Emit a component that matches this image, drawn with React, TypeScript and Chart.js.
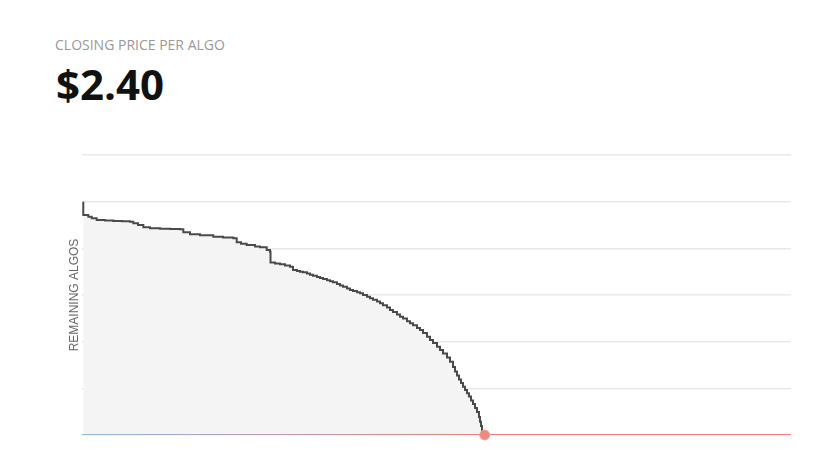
import React, { useEffect, useRef } from "react";
import { Chart, registerables } from "chart.js";

Chart.register(...registerables);

const TITLE = "CLOSING PRICE PER ALGO";
const PRICE = "$2.40";
const Y_TITLE = "REMAINING ALGOS";

// x: auction progress (0..100), y: remaining algos (millions)
const stepX = [
  0.18, 0.18, 0.89, 1.37, 2.07, 3.24, 4.41, 5.64, 6.77, 7.24, 7.9, 8.65, 9.59, 11.0, 12.41, 13.82,
  14.29, 15.23, 16.64, 18.52, 19.89, 21.34, 21.82, 22.43, 23.23, 24.4, 25.11, 26.05, 26.52,
  26.59, 27.22, 27.93, 28.63, 29.34, 29.76, 30.32, 30.75, 31.17, 31.73, 32.16, 32.58, 33.15,
  33.57, 33.99, 34.56, 34.98, 35.4, 35.97, 36.39, 36.81, 37.38, 37.8, 38.22, 38.79, 39.21,
  39.63, 40.2, 40.62, 41.04, 41.61, 42.03, 42.45, 43.02, 43.44, 43.86, 44.43, 44.85, 45.28,
  45.84, 46.26, 46.69, 47.25, 47.67, 48.1, 48.66, 49.08, 49.51, 50.07, 50.49, 50.92, 51.48,
  51.9, 52.33, 52.61, 52.89, 53.17, 53.46, 53.74, 54.02, 54.3, 54.58, 54.87, 55.15, 55.43,
  55.71, 55.99, 56.14, 56.28, 56.42, 56.49,
];
const stepY = [
  25.0, 23.57, 23.39, 23.22, 23.04, 22.98, 22.93, 22.89, 22.85, 22.68, 22.5, 22.25, 22.15, 22.11,
  22.07, 22.04, 21.72, 21.5, 21.4, 21.25, 21.16, 21.08, 20.65, 20.5, 20.36, 20.2, 20.11, 19.82,
  19.64, 18.48, 18.38, 18.29, 18.16, 18.03, 17.68, 17.57, 17.49, 17.43, 17.3, 17.18, 17.07,
  16.93, 16.82, 16.71, 16.59, 16.47, 16.36, 16.18, 16.02, 15.89, 15.7, 15.54, 15.43, 15.29,
  15.18, 15.0, 14.82, 14.65, 14.49, 14.3, 14.11, 13.9, 13.66, 13.39, 13.18, 12.91, 12.68, 12.48,
  12.18, 11.97, 11.75, 11.46, 11.25, 10.93, 10.53, 10.18, 9.86, 9.46, 9.11, 8.73, 8.3, 7.85,
  7.29, 6.8, 6.38, 5.95, 5.57, 5.18, 4.82, 4.47, 4.13, 3.7, 3.32, 2.89, 2.46, 1.93, 1.43, 0.96,
  0.35, 0,
];
const closeX = 56.8;
const closeY = 0;
const X_MIN = 0;
const X_MAX = 100;
const Y_MIN = 0;
const Y_MAX = 30;
const Y_STEP = 5;

export default function App() {
  const ref = useRef<HTMLCanvasElement | null>(null);

  useEffect(() => {
    if (!ref.current) return;
    const stepData = stepX.map((x, i) => ({ x, y: stepY[i] }));
    const chart = new Chart(ref.current, {
      type: "line",
      data: {
        datasets: [
          {
            data: stepData,
            stepped: "before",
            borderColor: "#4a4a4a",
            borderWidth: 2,
            backgroundColor: "#f4f4f4",
            fill: "origin",
            pointRadius: 0,
            order: 2,
          },
          {
            data: [
              { x: X_MIN, y: 0 },
              { x: X_MAX, y: 0 },
            ],
            borderWidth: 2,
            pointRadius: 0,
            fill: false,
            borderColor: (ctx: any) => {
              const chart = ctx.chart;
              const area = chart.chartArea;
              if (!area) return "#e8837a";
              const g = chart.ctx.createLinearGradient(area.left, 0, area.right, 0);
              const px = chart.scales.x.getPixelForValue(closeX);
              const t = Math.min(1, Math.max(0, (px - area.left) / (area.right - area.left)));
              g.addColorStop(0, "#92b6e2");
              g.addColorStop(t, "#e8837a");
              g.addColorStop(1, "#e8837a");
              return g;
            },
            order: 1,
          },
          {
            data: [{ x: closeX, y: closeY }],
            pointRadius: 5,
            pointBackgroundColor: "#ef8a80",
            pointBorderColor: "#f2a49c",
            pointBorderWidth: 1,
            showLine: false,
            clip: false as any,
            order: 0,
          },
        ],
      },
      options: {
        animation: false,
        responsive: false,
        maintainAspectRatio: false,
        layout: { padding: { left: 61.6, right: 33, top: 15, bottom: 19 } },
        plugins: { legend: { display: false }, tooltip: { enabled: false } },
        scales: {
          x: {
            type: "linear",
            min: X_MIN,
            max: X_MAX,
            display: false,
          },
          y: {
            min: Y_MIN,
            max: Y_MAX,
            ticks: { display: false, stepSize: Y_STEP },
            border: { display: false },
            grid: { color: "#e9e9e9", lineWidth: 1.5, drawTicks: false },
            title: {
              display: true,
              text: Y_TITLE,
              color: "#666",
              font: { family: "'Liberation Sans', Arial, sans-serif", size: 12 },
              padding: { top: 6, bottom: 0 },
            },
          },
        },
      },
    });
    return () => chart.destroy();
  }, []);

  return (
    <div style={{ position: "absolute", left: 0, top: 0, width: 824, height: 454, background: "#fff" }}>
      <div
        style={{
          position: "absolute",
          left: 55,
          top: 38,
          fontFamily: "'Open Sans', sans-serif",
          fontSize: 14,
          lineHeight: "14px",
          color: "#999",
          whiteSpace: "nowrap",
        }}
      >
        {TITLE}
      </div>
      <div
        style={{
          position: "absolute",
          left: 56,
          top: 63,
          fontFamily: "'Open Sans', sans-serif",
          fontWeight: 700,
          fontSize: 42,
          lineHeight: "42px",
          color: "#111",
          whiteSpace: "nowrap",
        }}
      >
        {PRICE}
      </div>
      <canvas
        ref={ref}
        width={824}
        height={314}
        style={{ position: "absolute", left: 0, top: 140, width: 824, height: 314 }}
      />
    </div>
  );
}
